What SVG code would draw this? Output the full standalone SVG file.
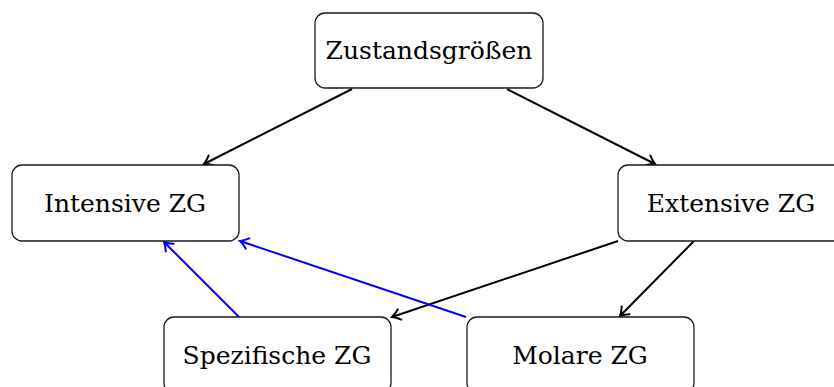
<svg xmlns="http://www.w3.org/2000/svg" width="834" height="387" viewBox="0 0 834 387">
  <style>
    .box { fill: #ffffff; stroke: #1a1a1a; stroke-width: 1.3; }
    .label { font-family: "DejaVu Serif", "Liberation Serif", serif; font-size: 25px; fill: #000000; text-anchor: middle; }
    .edge { fill: none; stroke-width: 2; }
    .black { stroke: #000000; }
    .blue { stroke: #0000ff; }
  </style>
  <defs>
    <marker id="tipBlack" markerUnits="userSpaceOnUse" viewBox="-10 -7 12 14" markerWidth="12" markerHeight="14" refX="0" refY="0" orient="auto">
      <path d="M -8 -5.5 Q -3 -1.2 0 0 Q -3 1.2 -8 5.5" fill="none" stroke="#000000" stroke-width="2" stroke-linecap="round"/>
    </marker>
    <marker id="tipBlue" markerUnits="userSpaceOnUse" viewBox="-10 -7 12 14" markerWidth="12" markerHeight="14" refX="0" refY="0" orient="auto">
      <path d="M -8 -5.5 Q -3 -1.2 0 0 Q -3 1.2 -8 5.5" fill="none" stroke="#0000ff" stroke-width="2" stroke-linecap="round"/>
    </marker>
  </defs>

  <g id="connectors">
    <line class="edge black" x1="352" y1="89" x2="204" y2="164" marker-end="url(#tipBlack)"/>
    <line class="edge black" x1="507" y1="89" x2="655" y2="164" marker-end="url(#tipBlack)"/>
    <line class="edge black" x1="618" y1="241" x2="392" y2="317" marker-end="url(#tipBlack)"/>
    <line class="edge black" x1="694" y1="241" x2="620" y2="316" marker-end="url(#tipBlack)"/>
    <line class="edge blue" x1="239" y1="317" x2="164" y2="242" marker-end="url(#tipBlue)"/>
    <line class="edge blue" x1="466" y1="317" x2="240" y2="241" marker-end="url(#tipBlue)"/>
  </g>

  <g id="zustandsgroessen">
    <rect class="box" x="315" y="13" width="228" height="75" rx="10"/>
    <text class="label" x="429" y="59">Zustandsgrößen</text>
  </g>
  <g id="intensive">
    <rect class="box" x="12" y="165" width="227" height="76" rx="10"/>
    <text class="label" x="125" y="212">Intensive ZG</text>
  </g>
  <g id="extensive">
    <rect class="box" x="618" y="165" width="227" height="76" rx="10"/>
    <text class="label" x="731" y="212">Extensive ZG</text>
  </g>
  <g id="spezifische">
    <rect class="box" x="164" y="317" width="227" height="76" rx="10"/>
    <text class="label" x="277" y="364">Spezifische ZG</text>
  </g>
  <g id="molare">
    <rect class="box" x="467" y="317" width="227" height="76" rx="10"/>
    <text class="label" x="580" y="364">Molare ZG</text>
  </g>
</svg>
